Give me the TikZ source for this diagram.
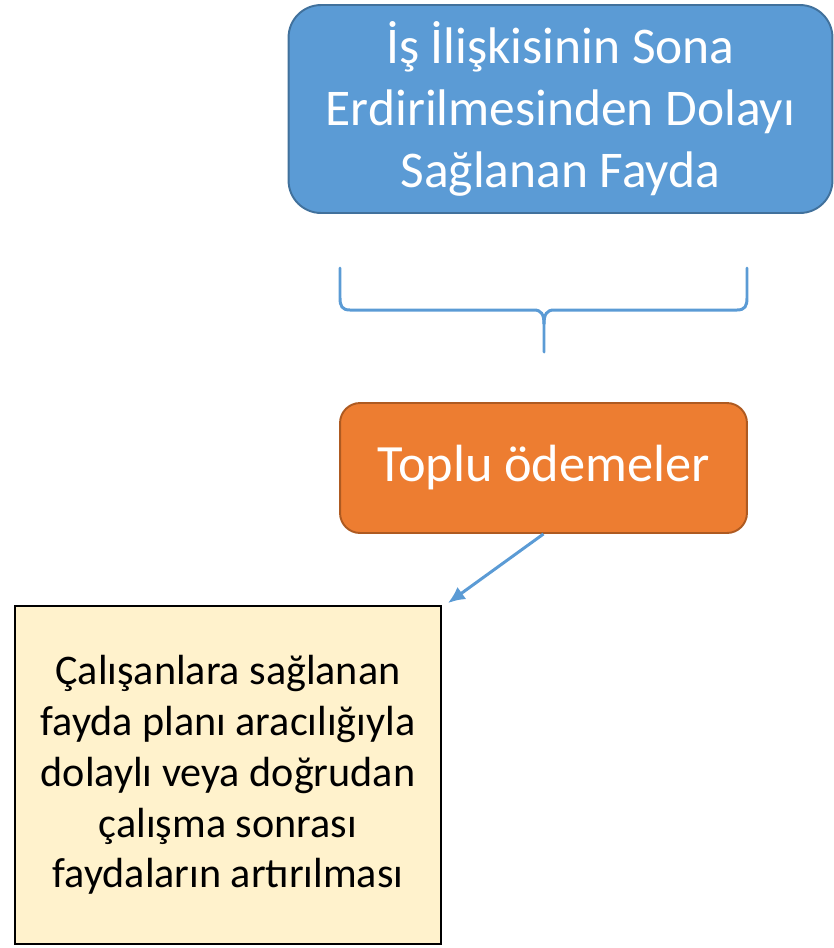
\documentclass[tikz,border=0pt]{standalone}
\usepackage{fontspec}
\setmainfont{Carlito}
\usetikzlibrary{arrows.meta,calc}

\definecolor{boxblue}{HTML}{5B9BD5}
\definecolor{lineblue}{HTML}{41719C}
\definecolor{boxorange}{HTML}{ED7D31}
\definecolor{lineorange}{HTML}{AE5A21}
\definecolor{boxyellow}{HTML}{FFF2CC}

\tikzset{
  bigbox/.style={draw, line width=1.1pt, rounded corners=0.65cm, align=center,
    text=white, font=\fontsize{29.3}{35.5}\selectfont},
  notebox/.style={draw=black, line width=1.1pt, fill=boxyellow, align=center,
    font=\fontsize{24}{28.9}\selectfont},
  bracestyle/.style={boxblue, line width=1.7pt, line cap=round},
}

\begin{document}
\begin{tikzpicture}[x=0.02cm,y=-0.02cm,>=Latex]
\useasboundingbox (0,0) rectangle (834,948);

\node[bigbox, fill=boxblue, draw=lineblue, minimum width=10.88cm, minimum height=4.16cm]
  (benefit) at (560.5,109) {İş İlişkisinin Sona\\Erdirilmesinden Dolayı\\Sağlanan Fayda};

\node[bigbox, fill=boxorange, draw=lineorange, rounded corners=0.4cm,
  font=\fontsize{29.8}{35.5}\selectfont,
  minimum width=8.14cm, minimum height=2.6cm]
  (lump) at (543.5,468) {Toplu ödemeler};

\node[notebox, minimum width=8.52cm, minimum height=6.76cm]
  (increase) at (228,775) {Çalışanlara sağlanan\\fayda planı aracılığıyla\\dolaylı veya doğrudan\\çalışma sonrası\\faydaların artırılması};

% brace under the top box
\coordinate (brl) at (340,268);
\coordinate (brr) at (747,268);
\coordinate (brtip) at (544,352);
\draw[bracestyle] (brl) -- (340,298) .. controls (340,306) and (342,310) .. (350,310)
  -- (534,310) .. controls (541,310) and (544,314) .. (544,324) -- (brtip);
\draw[bracestyle] (brr) -- (747,298) .. controls (747,306) and (745,310) .. (737,310)
  -- (554,310) .. controls (547,310) and (544,314) .. (544,324);

% arrow to the note
\coordinate (notetip) at ($(increase.north east)+(6,-2)$);
\draw[->, boxblue, line width=1.7pt, >={Latex[length=3.4mm,width=3mm]}]
  (lump.south) -- (notetip);
\end{tikzpicture}
\end{document}
